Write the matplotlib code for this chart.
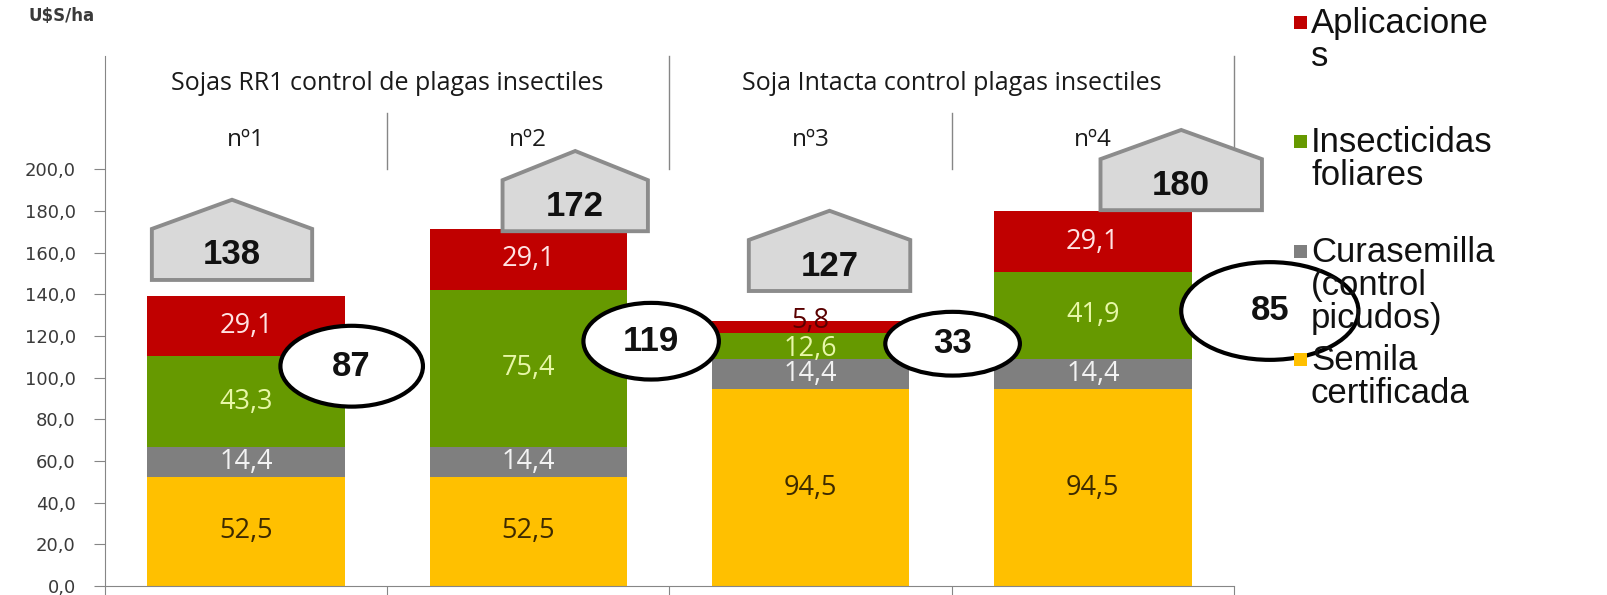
import numpy as np
import matplotlib.pyplot as plt
from matplotlib.patches import Ellipse, Polygon, Rectangle

# datos
categorias = ['nº1', 'nº2', 'nº3', 'nº4']
grupos = ['Sojas RR1 control de plagas insectiles', 'Soja Intacta control plagas insectiles']
semilla = [52.5, 52.5, 94.5, 94.5]
curasemilla = [14.4, 14.4, 14.4, 14.4]
insecticidas = [43.3, 75.4, 12.6, 41.9]
aplicaciones = [29.1, 29.1, 5.8, 29.1]
totales = [138, 172, 127, 180]
diferencias = [87, 119, 33, 85]

series = [semilla, curasemilla, insecticidas, aplicaciones]
colores = ['#FFC000', '#7F7F7F', '#669900', '#C00000']
col_txt = ['#3d2a00', '#f2f2f2', '#e8f7a8', '#ffe3e3']
nombres = ['Semila\ncertificada', 'Curasemilla\n(control\npicudos)',
           'Insecticidas\nfoliares', 'Aplicacione\ns']

# posiciones de las casitas (centro x, base, ancho) y elipses (x, y, ancho, alto)
casas = [(-0.05, 146.9, 0.568), (1.166, 170.3, 0.515), (2.067, 141.6, 0.572), (3.313, 180.4, 0.572)]
elipses = [(0.374, 105.5, 0.505, 38.8), (1.435, 117.5, 0.48, 36.8),
           (2.503, 116.3, 0.477, 30.6), (3.627, 132.0, 0.628, 46.9)]

fig = plt.figure(figsize=(16.07, 5.95), dpi=100)
ax = fig.add_axes([105/1607, 9/595, 1129/1607, 530/595])

x = np.arange(len(categorias))
bottom = np.zeros(len(categorias))
for k, (vals, c) in enumerate(zip(series, colores)):
    ax.bar(x, vals, 0.7, bottom=bottom, color=c, zorder=2)
    for i, v in enumerate(vals):
        tc = col_txt[k]
        yy = bottom[i] + v / 2
        if v < 8:
            # segmento muy fino: texto oscuro y un poco mas arriba
            tc = '#5a0000'
            yy += 3
        elif v < 13:
            yy -= 1.5
        ax.text(x[i], yy, f'{v:.1f}'.replace('.', ','), ha='center', va='center',
                fontsize=19.5, color=tc, family='Open Sans', zorder=3)
    bottom += np.array(vals)

ax.set_xlim(-0.5, 3.5)
ax.set_ylim(0, 254.4)
ax.set_yticks(np.arange(0, 201, 20))
ax.set_yticklabels([f'{v:.1f}'.replace('.', ',') for v in np.arange(0, 201, 20)])
ax.set_xticks([-0.5, 0.5, 1.5, 2.5, 3.5])
ax.set_xticklabels([])
ax.tick_params(axis='y', direction='out', length=8, color='#868686', labelsize=13,
               labelcolor='#3a3a3a', pad=13)
ax.tick_params(axis='x', direction='out', length=7, color='#868686')
for s in ['top', 'right']:
    ax.spines[s].set_visible(False)
for s in ['left', 'bottom']:
    ax.spines[s].set_color('#868686')

# cabecera con categorias
for xs in [1.5, 3.5]:
    ax.plot([xs, xs], [200, 254.4], color='#868686', lw=1, clip_on=False)
for xs in [0.5, 2.5]:
    ax.plot([xs, xs], [200, 227], color='#868686', lw=1, clip_on=False)
for i, c in enumerate(categorias):
    ax.text(x[i], 214, c, ha='center', va='center', fontsize=17.5, family='Open Sans', color='#1a1a1a')
for j, g in enumerate(grupos):
    ax.text(0.5 + 2 * j, 241, g, ha='center', va='center', fontsize=18, family='Open Sans', color='#1a1a1a')

# casitas con totales
for (xc, yb, w), t in zip(casas, totales):
    pts = [(xc - w/2, yb), (xc - w/2, yb + 24.5), (xc, yb + 38.5), (xc + w/2, yb + 24.5), (xc + w/2, yb)]
    ax.add_patch(Polygon(pts, closed=True, facecolor='#d9d9d9', edgecolor='#8c8c8c', lw=2.8,
                         zorder=4, clip_on=False))
    ax.text(xc, yb + 12, str(t), ha='center', va='center', fontsize=25, fontweight='bold',
            family='Liberation Sans', color='#111111', zorder=5)

# elipses con diferencias
for (ex, ey, ew, eh), d in zip(elipses, diferencias):
    ax.add_patch(Ellipse((ex, ey), ew, eh, facecolor='white', edgecolor='black', lw=3,
                         zorder=4, clip_on=False))
    ax.text(ex, ey, str(d), ha='center', va='center', fontsize=25, fontweight='bold',
            family='Liberation Sans', color='#111111', zorder=5)

fig.text(29/1607, 1 - 16/595, 'U$S/ha', fontsize=12, fontweight='bold', color='#3a3a3a',
         va='center', ha='left')

# leyenda a la derecha
ley_y = [22, 141, 251, 359]
for yy, k in zip(ley_y, [3, 2, 1, 0]):
    fig.patches.append(Rectangle((1294/1607, 1 - (yy + 7)/595), 13/1607, 13/595,
                                 facecolor=colores[k], edgecolor='none', transform=fig.transFigure))
    fig.text(1311/1607, 1 - (yy - 15)/595, nombres[k], fontsize=25, family='Liberation Sans',
             color='#111111', va='top', ha='left', linespacing=1.0)

fig.savefig('out.png', dpi=100)
